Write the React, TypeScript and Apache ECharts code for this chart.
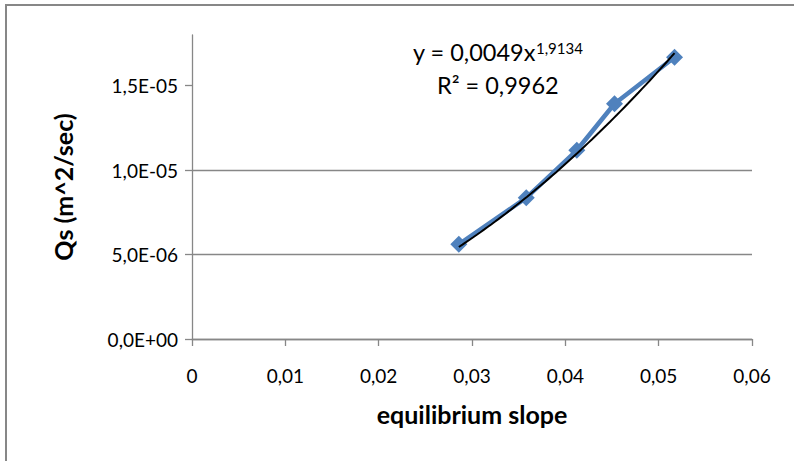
import { useEffect, useRef } from "react";
import * as echarts from "echarts";

// Measured sediment transport against equilibrium slope
const slope = [0.02859, 0.03581, 0.04123, 0.04527, 0.0517];
const qs = [5.61e-6, 8.36e-6, 1.1175e-5, 1.393e-5, 1.668e-5];

// Axis ticks and their labels
const xTicks = [0, 0.01, 0.02, 0.03, 0.04, 0.05, 0.06];
const xTickLabels = ["0", "0,01", "0,02", "0,03", "0,04", "0,05", "0,06"];
const yTicks = [0, 5e-6, 1e-5, 1.5e-5];
const yTickLabels = ["0,0E+00", "5,0E-06", "1,0E-05", "1,5E-05"];

// Power trendline y = a·x^b as printed on the chart
const fitA = 0.0049;
const fitB = 1.9134;
const fitAText = "0,0049";
const fitBText = "1,9134";
const fitR2Text = "0,9962";

const FONT = "Lato, 'Open Sans', sans-serif";
const AXIS_GREY = "#878787";

function trendPoints(): number[][] {
  const x0 = slope[0];
  const x1 = slope[slope.length - 1];
  const steps = 60;
  const pts: number[][] = [];
  for (let i = 0; i <= steps; i++) {
    const x = x0 + ((x1 - x0) * i) / steps;
    pts.push([x, fitA * Math.pow(x, fitB)]);
  }
  return pts;
}

export default function App() {
  const ref = useRef<HTMLDivElement>(null);

  useEffect(() => {
    if (!ref.current) return;
    const chart = echarts.init(ref.current, undefined, { renderer: "svg" });

    const xLabel = (v: number) => {
      const i = xTicks.findIndex((t) => Math.abs(t - v) < 1e-9);
      return i >= 0 ? xTickLabels[i] : "";
    };
    const yLabel = (v: number) => {
      const i = yTicks.findIndex((t) => Math.abs(t - v) < 1e-12);
      return i >= 0 ? yTickLabels[i] : "";
    };

    chart.setOption({
      animation: false,
      backgroundColor: "#ffffff",
      grid: {
        left: 192,
        right: 42,
        top: 35,
        bottom: 122,
        containLabel: false,
        outerBoundsMode: "none",
      },
      xAxis: {
        type: "value",
        min: 0,
        max: 0.06,
        interval: 0.01,
        name: "equilibrium slope",
        nameLocation: "middle",
        nameGap: 62,
        nameTextStyle: {
          fontFamily: FONT,
          fontWeight: "bold",
          fontSize: 25,
          color: "#000",
        },
        axisLine: { show: true, onZero: false, lineStyle: { color: AXIS_GREY, width: 1.3 } },
        axisTick: { show: true, inside: false, length: 7, lineStyle: { color: AXIS_GREY, width: 1.3 } },
        axisLabel: {
          show: true,
          margin: 27,
          fontFamily: FONT,
          fontSize: 19,
          color: "#000",
          formatter: xLabel,
          hideOverlap: false,
        },
        splitLine: { show: false },
      },
      yAxis: {
        type: "value",
        min: 0,
        max: 1.8e-5,
        interval: 5e-6,
        name: "Qs (m^2/sec)",
        nameLocation: "middle",
        nameGap: 117,
        nameRotate: 90,
        nameTextStyle: {
          fontFamily: FONT,
          fontWeight: "bold",
          fontSize: 25,
          color: "#000",
        },
        axisLine: { show: true, onZero: false, lineStyle: { color: AXIS_GREY, width: 1.3 } },
        axisTick: {
          show: true,
          inside: false,
          length: 7,
          customValues: yTicks,
          lineStyle: { color: AXIS_GREY, width: 1.3 },
        },
        axisLabel: {
          show: true,
          margin: 14,
          fontFamily: FONT,
          fontSize: 19,
          color: "#000",
          customValues: yTicks,
          formatter: yLabel,
          hideOverlap: false,
        },
        splitLine: {
          show: true,
          showMaxLine: false,
          lineStyle: { color: AXIS_GREY, width: 1.3, type: "solid" },
        },
      },
      series: [
        {
          type: "line",
          data: slope.map((x, i) => [x, qs[i]]),
          symbol: "diamond",
          symbolSize: 17,
          showAllSymbol: true,
          lineStyle: { color: "#4F81BD", width: 4.5 },
          itemStyle: { color: "#4F81BD" },
          z: 2,
        },
        {
          type: "line",
          data: trendPoints(),
          showSymbol: false,
          symbol: "none",
          smooth: false,
          lineStyle: { color: "#000000", width: 2 },
          z: 3,
        },
      ],
      graphic: [
        {
          type: "rect",
          shape: { x: 6, y: 5, width: 830, height: 500 },
          style: { fill: "none", stroke: AXIS_GREY, lineWidth: 2 },
          silent: true,
          z: 10,
        },
        {
          type: "text",
          x: 413,
          y: 40,
          style: {
            text: `{m|y = ${fitAText}x}{s|${fitBText}}`,
            rich: {
              m: { fontFamily: FONT, fontSize: 23.5, fill: "#000" },
              s: { fontFamily: FONT, fontSize: 15, fill: "#000", verticalAlign: "top" },
            },
          },
          z: 10,
        },
        {
          type: "text",
          x: 437,
          y: 73,
          style: {
            text: `R² = ${fitR2Text}`,
            fontFamily: FONT,
            fontSize: 23.5,
            fill: "#000",
          },
          z: 10,
        },
      ],
    });

    return () => chart.dispose();
  }, []);

  return (
    <div
      ref={ref}
      style={{ position: "absolute", left: 0, top: 0, width: 794, height: 461 }}
    />
  );
}
